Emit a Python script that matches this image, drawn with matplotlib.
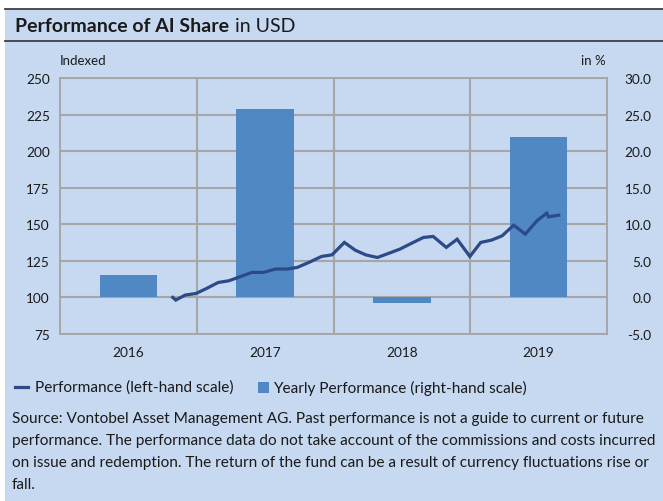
import matplotlib
matplotlib.use('Agg')
import matplotlib.pyplot as plt
from matplotlib.patches import Rectangle
from matplotlib.lines import Line2D
import pandas as pd

# ---- data ----
years = ['2016', '2017', '2018', '2019']
yearly_perf = [3.1, 25.7, -0.8, 21.9]  # % (right-hand scale)

perf_dates = ['2016-10-28', '2016-11-05', '2016-11-30', '2016-12-29',
              '2017-01-27', '2017-02-27', '2017-03-28', '2017-04-28',
              '2017-05-28', '2017-06-28', '2017-07-30', '2017-08-30',
              '2017-09-26', '2017-10-27', '2017-11-30', '2017-12-28',
              '2018-01-30', '2018-02-28', '2018-03-28', '2018-04-28',
              '2018-05-30', '2018-06-27', '2018-07-29', '2018-08-29',
              '2018-09-24', '2018-10-29', '2018-11-27', '2018-12-31',
              '2019-01-29', '2019-02-27', '2019-03-27', '2019-04-27',
              '2019-05-28', '2019-06-28', '2019-07-24', '2019-07-29',
              '2019-08-25']
perf_values = [100.0, 98.2, 101.6, 102.7, 106.1, 110.2, 111.4, 114.3,
               117.1, 117.1, 119.4, 119.4, 120.5, 123.9, 128.0, 129.1,
               137.6, 132.3, 129.1, 127.3, 130.3, 133.0, 137.1, 141.0,
               141.7, 134.2, 139.8, 128.0, 137.6, 139.2, 142.1, 149.4,
               143.3, 152.4, 157.6, 155.1, 156.2]

left_ticks = [75, 100, 125, 150, 175, 200, 225, 250]
right_ticks = [-5, 0, 5, 10, 15, 20, 25, 30]

BG = '#c6d9f1'
BAR = '#4f88c3'
LINE = '#2c4a87'
GRID = '#a6a6a6'
TXT = '#1a1a1a'

plt.rcParams['font.family'] = ['Lato', 'DejaVu Sans']

W, H = 663, 502
fig = plt.figure(figsize=(W / 100, H / 100), dpi=100, facecolor='white')
fig.patches.append(Rectangle((5 / W, 0), 1, 1 - 10 / H, transform=fig.transFigure,
                             facecolor=BG, edgecolor='none', zorder=-10))
for yy in (10, 42):
    fig.add_artist(Line2D([5 / W, 1], [1 - yy / H] * 2, color='#404040', lw=1.3))

# date -> category position (each year spans one category slot)
d = pd.to_datetime(pd.Series(perf_dates))
xpos = (d.dt.year - 2016) + (d.dt.dayofyear - 1) / 365.0 - 0.5

ax2 = fig.add_axes([60 / W, 1 - 335 / H, 547 / W, 256 / H])
ax = ax2.twinx()
ax.yaxis.tick_left()
ax.set_zorder(ax2.get_zorder() + 1)
for a in (ax, ax2):
    a.patch.set_visible(False)
    for s in a.spines.values():
        s.set_color(GRID)
        s.set_linewidth(1.2)

ax2.bar(range(len(years)), yearly_perf, width=0.42, color=BAR, zorder=2)
ax2.set_ylim(-5, 30)
ax2.set_yticks(right_ticks)
ax2.set_yticklabels([f'{v:.1f}' for v in right_ticks])
ax2.yaxis.tick_right()
ax2.set_xlim(-0.5, len(years) - 0.5)
ax2.set_xticks(range(len(years)))
ax2.set_xticklabels(years)
ax2.set_xticks([i + 0.5 for i in range(len(years) - 1)], minor=True)
ax2.set_axisbelow(True)
ax2.grid(True, which='major', axis='y', color=GRID, lw=1.5)
ax2.grid(True, which='minor', axis='x', color=GRID, lw=1.5)
ax2.tick_params(axis='both', which='both', length=0, labelsize=9.8, colors=TXT)
ax2.tick_params(axis='y', pad=32)
for lab in ax2.get_yticklabels():
    lab.set_horizontalalignment('right')
ax2.tick_params(axis='x', pad=9)

ax.plot(xpos, perf_values, color=LINE, lw=2.3, solid_joinstyle='miter', zorder=3)
ax.set_ylim(75, 250)
ax.set_yticks(left_ticks)
ax.tick_params(axis='y', length=0, labelsize=9.8, colors=TXT, pad=7.2)
ax.set_xlim(-0.5, len(years) - 0.5)

# title
t1 = fig.text(15 / W, 1 - 26 / H, 'Performance of AI Share', fontsize=14,
              fontweight='bold', color=TXT, va='center', ha='left')
fig.canvas.draw()
bb = t1.get_window_extent()
fig.text((bb.x1 + 6) / W, 1 - 26 / H, 'in USD', fontsize=14, color=TXT,
         va='center', ha='left')

fig.text(60 / W, 1 - 61 / H, 'Indexed', fontsize=9.5, color=TXT, va='center')
fig.text(606 / W, 1 - 61 / H, 'in %', fontsize=9.5, color=TXT, va='center', ha='right')

# legend
leg_y = 1 - 388 / H
fig.add_artist(Line2D([15 / W, 28 / W], [leg_y, leg_y], color=LINE, lw=2.3))
fig.text(35 / W, leg_y, 'Performance (left-hand scale)', fontsize=11.1, color=TXT, va='center')
fig.patches.append(Rectangle((258 / W, leg_y - 5.5 / H), 11 / W, 11 / H,
                             transform=fig.transFigure, facecolor=BAR, edgecolor='none'))
fig.text(273 / W, leg_y, 'Yearly Performance (right-hand scale)', fontsize=11.1,
         color=TXT, va='center')

footer = ['Source: Vontobel Asset Management AG. Past performance is not a guide to current or future',
          'performance. The performance data do not take account of the commissions and costs incurred',
          'on issue and redemption. The return of the fund can be a result of currency fluctuations rise or',
          'fall.']
for i, line in enumerate(footer):
    fig.text(12 / W, 1 - (419 + i * 22) / H, line, fontsize=11.1, color=TXT, va='center')

fig.savefig('out.png', dpi=100, facecolor='white')
